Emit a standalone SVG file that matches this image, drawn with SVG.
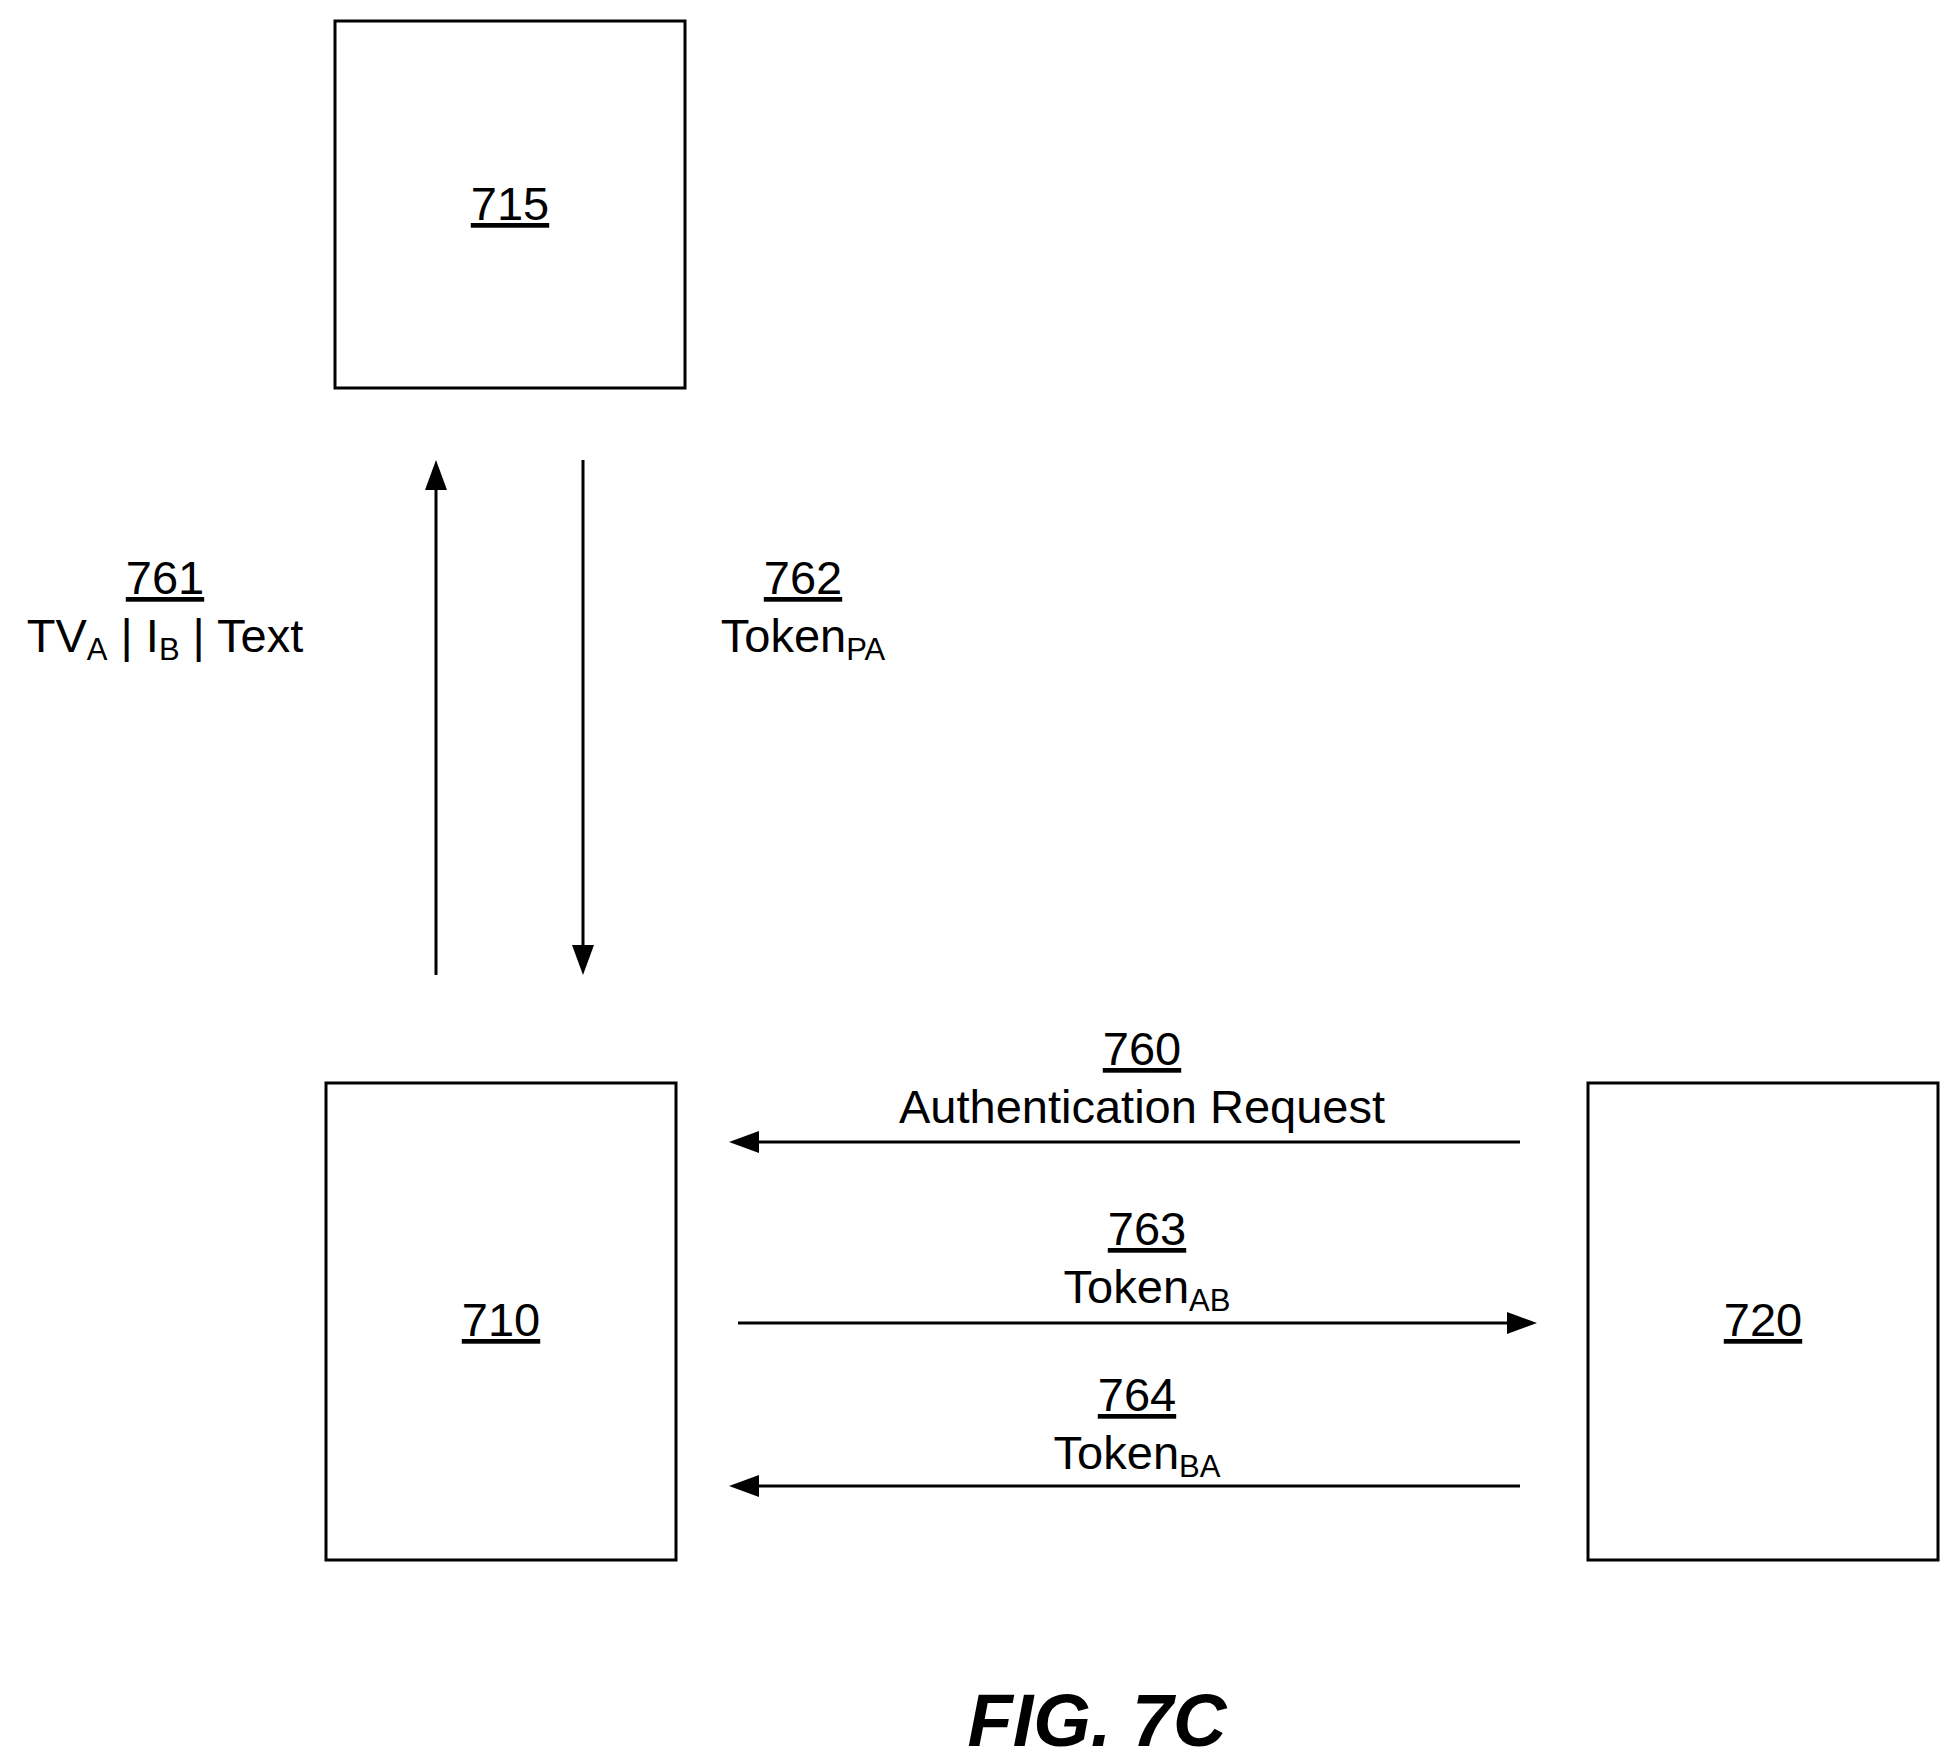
<svg xmlns="http://www.w3.org/2000/svg" width="1954" height="1762" viewBox="0 0 1954 1762">
<defs>
<style>
.b{fill:#fff;stroke:#000;stroke-width:3}
.t{font-family:"Liberation Sans",Arial,sans-serif;font-size:47px;text-anchor:middle;fill:#000}
.u{text-decoration:underline}
.s{font-size:31px}
</style>
</defs>
<rect width="1954" height="1762" fill="#fff"/>
<g id="n715"><rect class="b" x="335" y="21" width="350" height="367"/><text class="t u" x="510" y="220">715</text></g>
<g id="n710"><rect class="b" x="326" y="1083" width="350" height="477"/><text class="t u" x="501" y="1336">710</text></g>
<g id="n720"><rect class="b" x="1588" y="1083" width="350" height="477"/><text class="t u" x="1763" y="1336">720</text></g>
<g id="connectors">
<line x1="436" y1="975" x2="436" y2="485" stroke="#000" stroke-width="3"/>
<path d="M436,460 L425,490 L447,490z"/>
<line x1="583" y1="460" x2="583" y2="950" stroke="#000" stroke-width="3"/>
<path d="M583,975 L572,945 L594,945z"/>
<line x1="1520" y1="1142" x2="755" y2="1142" stroke="#000" stroke-width="3"/>
<path d="M729,1142 L759,1131 L759,1153z"/>
<line x1="738" y1="1323" x2="1510" y2="1323" stroke="#000" stroke-width="3"/>
<path d="M1537,1323 L1507,1312 L1507,1334z"/>
<line x1="1520" y1="1486" x2="755" y2="1486" stroke="#000" stroke-width="3"/>
<path d="M729,1486 L759,1475 L759,1497z"/>
</g>
<g id="labels">
<text class="t u" x="165" y="594">761</text>
<text class="t" x="165" y="652">TV<tspan class="s" dy="8">A</tspan><tspan dy="-8"> | I</tspan><tspan class="s" dy="8">B</tspan><tspan dy="-8"> | Text</tspan></text>
<text class="t u" x="803" y="594">762</text>
<text class="t" x="803" y="652">Token<tspan class="s" dy="8">PA</tspan></text>
<text class="t u" x="1142" y="1065">760</text>
<text class="t" x="1142" y="1123">Authentication Request</text>
<text class="t u" x="1147" y="1245">763</text>
<text class="t" x="1147" y="1303">Token<tspan class="s" dy="8">AB</tspan></text>
<text class="t u" x="1137" y="1411">764</text>
<text class="t" x="1137" y="1469">Token<tspan class="s" dy="8">BA</tspan></text>
<text x="1097" y="1746" font-family="Liberation Sans,Arial,sans-serif" font-size="74" font-weight="bold" font-style="italic" text-anchor="middle">FIG. 7C</text>
</g>
</svg>
